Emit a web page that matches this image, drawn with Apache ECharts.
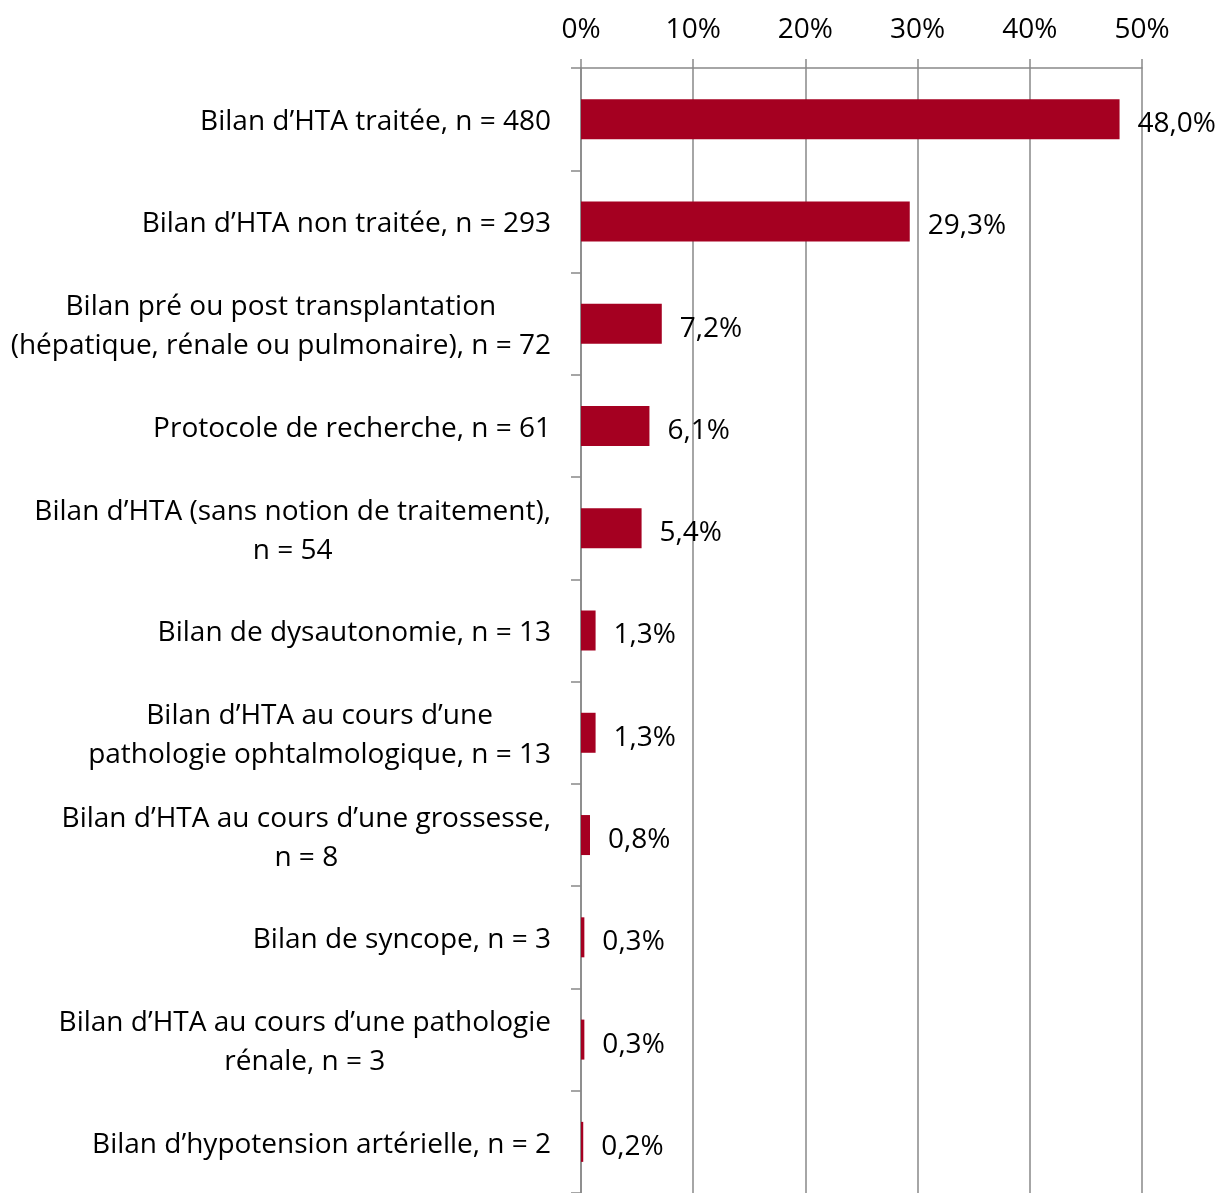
<!DOCTYPE html>
<html>
<head>
<meta charset="utf-8">
<script src="https://cdn.jsdelivr.net/npm/echarts@6/dist/echarts.min.js"></script>
<style>
  html, body { margin: 0; padding: 0; background: #fff; }
  #chart { width: 1221px; height: 1193px; }
</style>
</head>
<body>
<div id="chart"></div>
<script>
// categories, top to bottom
const categories = [
  "Bilan d’HTA traitée, n = 480",
  "Bilan d’HTA non traitée, n = 293",
  "Bilan pré ou post transplantation\n(hépatique, rénale ou pulmonaire), n = 72",
  "Protocole de recherche, n = 61",
  "Bilan d’HTA (sans notion de traitement),\nn = 54",
  "Bilan de dysautonomie, n = 13",
  "Bilan d’HTA au cours d’une\npathologie ophtalmologique, n = 13",
  "Bilan d’HTA au cours d’une grossesse,\nn = 8",
  "Bilan de syncope, n = 3",
  "Bilan d’HTA au cours d’une pathologie\nrénale, n = 3",
  "Bilan d’hypotension artérielle, n = 2"
];
const percents = [48.0, 29.3, 7.2, 6.1, 5.4, 1.3, 1.3, 0.8, 0.3, 0.3, 0.2];
const xTicks = [0, 10, 20, 30, 40, 50];

const FONT = "Open Sans";
const GRAY = "#898989";
const FS = 28;

var chartDom = document.getElementById("chart");
var myChart = echarts.init(chartDom);

var option = {
  animation: false,
  textStyle: { fontFamily: FONT },
  grid: {
    left: 581,
    right: 79,
    top: 68,
    bottom: -8,
    containLabel: false
  },
  xAxis: {
    type: "value",
    position: "top",
    min: xTicks[0],
    max: xTicks[xTicks.length - 1],
    interval: xTicks[1] - xTicks[0],
    axisLine: { show: true, lineStyle: { color: GRAY, width: 1.5 } },
    axisTick: { show: true, length: 9, lineStyle: { color: GRAY, width: 1.5 } },
    splitLine: { show: true, lineStyle: { color: GRAY, width: 1.5 } },
    axisLabel: {
      margin: 24,
      fontSize: FS,
      color: "#000",
      fontFamily: FONT,
      formatter: (v) => v + "%"
    }
  },
  yAxis: {
    type: "category",
    inverse: true,
    data: categories,
    axisLine: { show: true, lineStyle: { color: GRAY, width: 1.5 } },
    axisTick: { show: true, length: 10, lineStyle: { color: GRAY, width: 1.5 } },
    axisLabel: {
      margin: 30,
      color: "#000",
      fontFamily: FONT,
      fontSize: FS,
      formatter: (v) => v.split("\n").map((s) => "{c|" + s + "}").join("\n"),
      rich: {
        c: { align: "center", fontSize: FS, lineHeight: 39, fontFamily: FONT, color: "#000", padding: [6, 0, 0, 0] }
      }
    }
  },
  series: [
    {
      type: "bar",
      data: percents,
      barWidth: 40,
      itemStyle: { color: "#A50021" },
      label: {
        show: true,
        position: "right",
        distance: 18,
        fontSize: FS,
        fontFamily: FONT,
        color: "#000",
        offset: [0, 5],
        formatter: (p) => p.value.toFixed(1).replace(".", ",") + "%"
      }
    }
  ]
};

option && myChart.setOption(option);
</script>
</body>
</html>
